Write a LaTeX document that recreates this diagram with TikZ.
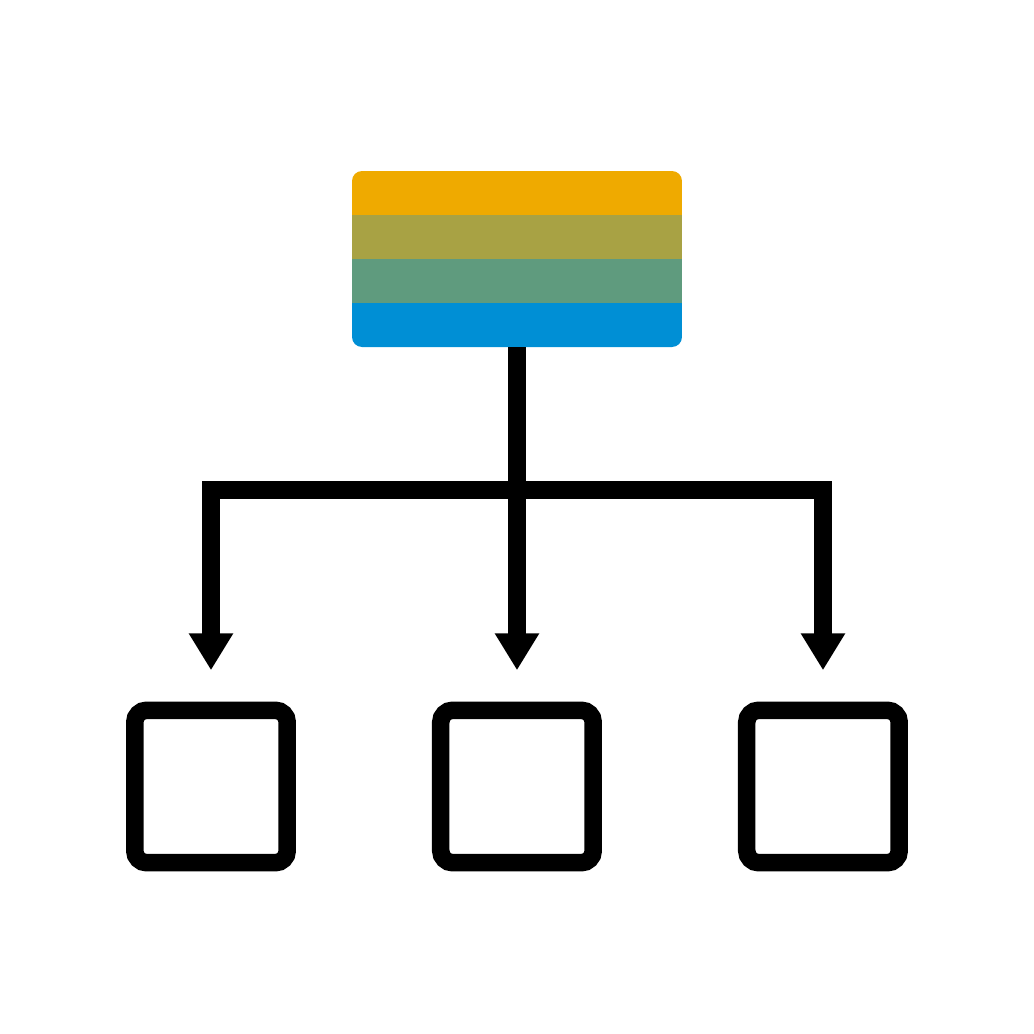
\documentclass[tikz,border=0pt]{standalone}
\usepackage{tikz}
\usetikzlibrary{arrows.meta,positioning,calc}
\definecolor{cOrg}{HTML}{EFAA00}
\definecolor{cOlv}{HTML}{A8A244}
\definecolor{cGrn}{HTML}{5F9B7E}
\definecolor{cBlu}{HTML}{008FD5}
\tikzset{
  hdr/.style  ={rectangle,rounded corners=1mm,minimum width=33mm,minimum height=17.6mm,
                inner sep=0pt,outer sep=0pt},
  leaf/.style ={draw=black,line width=1.75mm,rounded corners=1.2mm,minimum size=15.25mm,
                inner sep=0pt,outer sep=0pt},
  sig/.style  ={draw=black,line width=1.75mm},
  tip/.style  ={sig,-{Triangle[length=3.7mm,width=4.2mm]}},
}
\begin{document}
\begin{tikzpicture}[x=0.1mm,y=0.1mm]
\useasboundingbox (0,0) rectangle (1034,1034);
% source block with four bands
\node[hdr,path picture={
  \foreach \c [count=\i from 0] in {cOrg,cOlv,cGrn,cBlu}
    {\fill[\c,sharp corners] ([yshift=-\i*4.4mm]path picture bounding box.north west) rectangle ++(33mm,-4.45mm);}
}] (src) at (517,775) {};

% three targets
\foreach \n/\x in {b1/211,b2/517,b3/823}
  {\node[leaf] (\n) at (\x,247.5) {};}

\coordinate (split) at (517,544);

\draw[sig] (src.south) -- (split);
\draw[tip] (split) -| ([yshift=4mm]b1.north);
\draw[tip] (split) -- ([yshift=4mm]b2.north);
\draw[tip] (split) -| ([yshift=4mm]b3.north);
\end{tikzpicture}
\end{document}
